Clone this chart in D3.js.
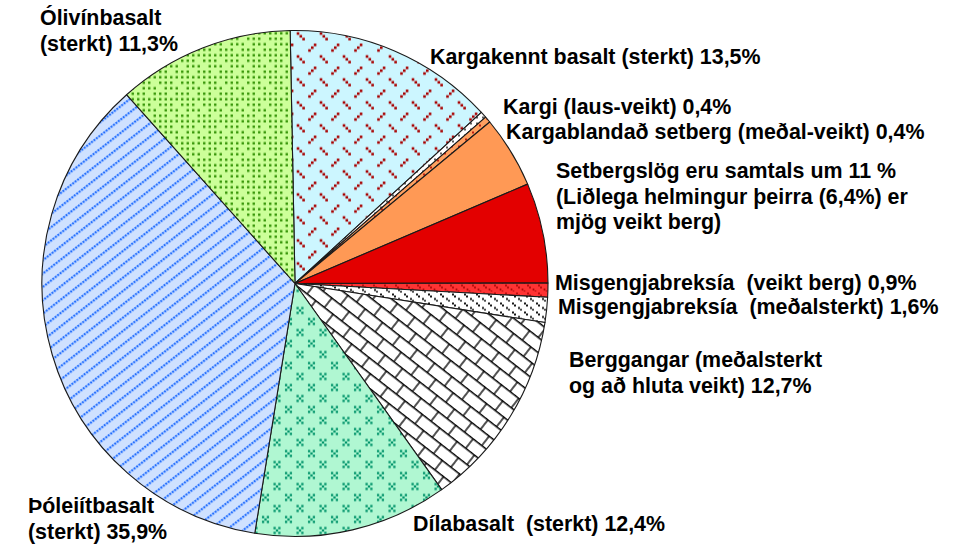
<!DOCTYPE html>
<html>
<head>
<meta charset="utf-8">
<script src="https://cdn.jsdelivr.net/npm/d3@7"></script>
<style>
  html, body { margin: 0; padding: 0; background: #fff; }
  svg { display: block; }
  text { font-family: "Liberation Sans", Arial, sans-serif; font-weight: bold; fill: #000; white-space: pre; }
</style>
</head>
<body>
<svg id="chart" width="977" height="544"></svg>
<script>
// Rock types along the tunnel route, clockwise from 12 o'clock
const categories = [
  "Kargakennt basalt (sterkt)",
  "Kargi (laus-veikt)",
  "Kargablandað setberg (meðal-veikt)",
  "Setbergslög (önnur)",
  "Setbergslög (mjög veikt berg)",
  "Misgengjabreksía (veikt berg)",
  "Misgengjabreksía (meðalsterkt)",
  "Berggangar (meðalsterkt og að hluta veikt)",
  "Dílabasalt (sterkt)",
  "Þóleiítbasalt (sterkt)",
  "Ólivínbasalt (sterkt)"
];
// Share of the route, percent
const shares = [13.5, 0.4, 0.4, 4.6, 6.4, 0.9, 1.6, 12.7, 12.4, 35.9, 11.3];

// Fill pattern ids, one per category
const fills = ["pKargakennt", "pKargi", "pKargablandad", "pSetberg", "pSetbergVeikt",
               "pMisgVeikt", "pMisgMedal", "pBerggangar", "pDila", "pTholeiit", "pOlivin"];

// Label text (lines)
const labelLines = [
  ["Ólivínbasalt", "(sterkt) 11,3%"],
  ["Kargakennt basalt (sterkt) 13,5%"],
  ["Kargi (laus-veikt) 0,4%"],
  ["Kargablandað setberg (meðal-veikt) 0,4%"],
  ["Setbergslög eru samtals um 11 %", "(Liðlega helmingur þeirra (6,4%) er", "mjög veikt berg)"],
  ["Misgengjabreksía  (veikt berg) 0,9%"],
  ["Misgengjabreksía  (meðalsterkt) 1,6%"],
  ["Berggangar (meðalsterkt", "og að hluta veikt) 12,7%"],
  ["Dílabasalt  (sterkt) 12,4%"],
  ["Þóleiítbasalt", "(sterkt) 35,9%"]
];

// Layout
const W = 977, H = 544;
const cx = 295, cy = 283.5, R = 253;
const startDeg = -1.1;
const labelPos = [
  [40, 25], [430, 64], [503, 114], [506, 139], [556, 178],
  [555, 290], [558, 314], [569, 367], [413, 531], [28, 513]
];
const lineGap = 25.5;
const fontSize = 21.4;

const svg = d3.select("#chart");
const defs = svg.append("defs");

function tile(id, w, h, bg, transform) {
  const p = defs.append("pattern")
    .attr("id", id).attr("patternUnits", "userSpaceOnUse")
    .attr("width", w).attr("height", h);
  if (transform) p.attr("patternTransform", transform);
  p.append("rect").attr("width", w).attr("height", h).attr("fill", bg);
  return p;
}
function dots(p, pts, size, color) {
  pts.forEach(([x, y]) => p.append("rect")
    .attr("x", x - size / 2).attr("y", y - size / 2)
    .attr("width", size).attr("height", size).attr("fill", color));
}

// Kargakennt basalt: light cyan with dark red dashed ticks
{
  const p = tile("pKargakennt", 23, 23, "#ccf6ff");
  dots(p, [[3, 3], [5.8, 5.8], [8.6, 8.6]], 2.6, "#a80000");
  dots(p, [[14.5, 20], [17.3, 17.2], [20.1, 14.4]], 2.6, "#a80000");
}
// Kargi: white with black dots
{
  const p = tile("pKargi", 6, 6, "#ffffff");
  dots(p, [[2, 2]], 1.6, "#000");
}
// Kargablandað setberg: orange with red dots
{
  const p = tile("pKargablandad", 7, 7, "#ffa060");
  dots(p, [[3, 3]], 1.8, "#b00000");
}
tile("pSetberg", 10, 10, "#ff9955");
tile("pSetbergVeikt", 10, 10, "#e30000");
// Misgengjabreksía veikt: bright red with darker paired dots
{
  const p = tile("pMisgVeikt", 11, 8, "#ff3333");
  dots(p, [[2, 2], [4, 4]], 1.7, "#a00000");
  dots(p, [[7.5, 6], [9.5, 8]], 1.7, "#a00000");
}
// Misgengjabreksía meðalsterkt: white with black paired dots
{
  const p = tile("pMisgMedal", 12, 9, "#ffffff");
  dots(p, [[2, 2], [4, 4]], 1.9, "#000");
  dots(p, [[8, 6.5], [10, 8.5]], 1.9, "#000");
}
// Berggangar: white with black diagonal brick
{
  const p = tile("pBerggangar", 22, 24, "#ffffff", "rotate(38)");
  p.append("path")
    .attr("d", "M0,0.7H22 M0,12.7H22 M5,0.7V12.7 M16,12.7V24.7")
    .attr("stroke", "#000").attr("stroke-width", 1.35).attr("fill", "none");
}
// Dílabasalt: mint with teal crosses
{
  const p = tile("pDila", 23, 22, "#b0f7d2");
  [[5, 5], [16.5, 16]].forEach(([x, y]) => {
    dots(p, [[x - 2.4, y - 2.4], [x + 2.4, y - 2.4], [x, y], [x - 2.4, y + 2.4], [x + 2.4, y + 2.4]], 2.3, "#00936a");
  });
}
// Þóleiítbasalt: pale blue with dotted blue diagonal lines
{
  const p = tile("pTholeiit", 3.1, 10.5, "#cfe1ff", "rotate(-38)");
  dots(p, [[1.55, 5]], 2.1, "#1f6cff");
}
// Ólivínbasalt: pale green with a green dot grid
{
  const s = 5.5;
  const p = tile("pOlivin", 4 * s, 4 * s, "#ccff99");
  const pts = [];
  for (let i = 0; i < 4; i++) for (let j = 0; j < 4; j++) {
    if ((i + 2 * j) % 5 === 3) continue;
    pts.push([i * s + s / 2, j * s + s / 2]);
  }
  dots(p, pts, 2.4, "#359407");
}

const toRad = d => d * Math.PI / 180;
const pie = d3.pie().sort(null).value(d => d)
  .startAngle(toRad(startDeg)).endAngle(toRad(startDeg) + 2 * Math.PI);
const arc = d3.arc().innerRadius(0).outerRadius(R);

svg.append("g").attr("transform", `translate(${cx},${cy})`)
  .selectAll("path")
  .data(pie(shares))
  .join("path")
  .attr("d", arc)
  .attr("fill", (d, i) => `url(#${fills[i]})`)
  .attr("stroke", "#1a1a1a")
  .attr("stroke-width", 1.1)
  .attr("stroke-linejoin", "round");

const labels = svg.append("g").attr("font-size", fontSize);
labelLines.forEach((lines, k) => {
  const [x, y] = labelPos[k];
  const t = labels.append("text").attr("x", x).attr("y", y);
  lines.forEach((s, j) => t.append("tspan").attr("x", x).attr("y", y + j * lineGap).text(s));
});
</script>
</body>
</html>
